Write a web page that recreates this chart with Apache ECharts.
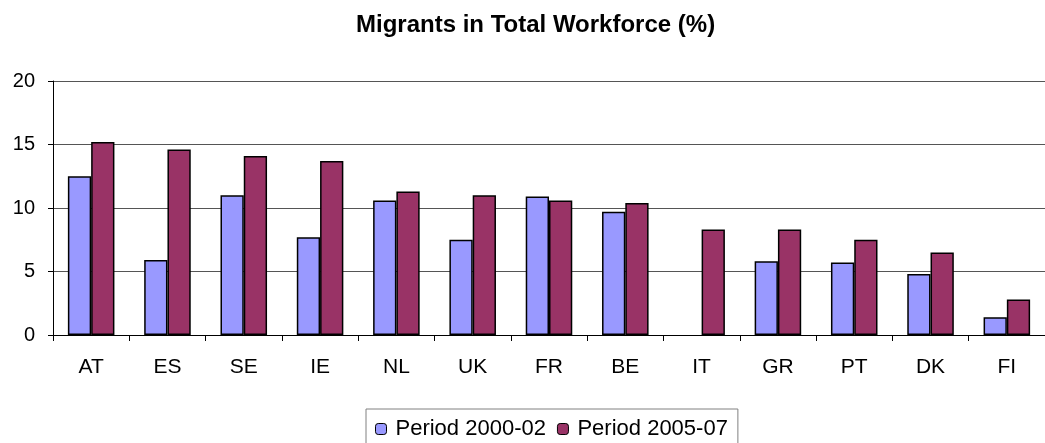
<!DOCTYPE html>
<html>
<head>
<meta charset="utf-8">
<script src="https://cdn.jsdelivr.net/npm/echarts@6/dist/echarts.min.js"></script>
<style>
  html, body { margin: 0; padding: 0; background: #fff; }
  #chart { width: 1045px; height: 443px; }
</style>
</head>
<body>
<div id="chart"></div>
<script>
const countries = ['AT', 'ES', 'SE', 'IE', 'NL', 'UK', 'FR', 'BE', 'IT', 'GR', 'PT', 'DK', 'FI'];
const period2000 = [12.5, 5.9, 11.0, 7.7, 10.6, 7.5, 10.9, 9.7, null, 5.8, 5.7, 4.8, 1.4];
const period2005 = [15.2, 14.6, 14.1, 13.7, 11.3, 11.0, 10.6, 10.4, 8.3, 8.3, 7.5, 6.5, 2.8];
const yTicks = [0, 5, 10, 15, 20];

const chart = echarts.init(document.getElementById('chart'));

const font = 'Liberation Sans, Arial, sans-serif';

const option = {
  animation: false,
  title: {
    text: 'Migrants in Total Workforce (%)',
    left: 356,
    top: 13,
    padding: 0,
    textStyle: { fontFamily: font, fontSize: 24, fontWeight: 'bold', color: '#000' }
  },
  legend: {
    left: 366,
    top: 409,
    itemWidth: 11,
    itemHeight: 11,
    itemGap: 11,
    padding: [9, 10, 6, 9],
    borderColor: '#808080',
    borderWidth: 1,
    textStyle: { fontFamily: font, fontSize: 22, color: '#000', padding: [0, 0, 0, 4] },
    data: [
      { name: 'Period 2000-02', itemStyle: { borderColor: '#000', borderWidth: 1 } },
      { name: 'Period 2005-07', itemStyle: { borderColor: '#000', borderWidth: 1 } }
    ]
  },
  grid: { left: 53, right: 0, top: 81, bottom: 108 },
  xAxis: {
    type: 'category',
    data: countries,
    axisLine: { lineStyle: { color: '#000', width: 1 } },
    axisTick: { show: true, length: 6, lineStyle: { color: '#000' } },
    axisLabel: { fontFamily: font, fontSize: 21, color: '#000', margin: 22 }
  },
  yAxis: {
    type: 'value',
    min: yTicks[0],
    max: yTicks[yTicks.length - 1],
    interval: 5,
    axisLine: { show: true, lineStyle: { color: '#000' } },
    axisTick: { show: true, length: 5, lineStyle: { color: '#000' } },
    axisLabel: { fontFamily: font, fontSize: 20, color: '#000', margin: 18 },
    splitLine: { lineStyle: { color: '#555', width: 1 } }
  },
  series: [
    {
      name: 'Period 2000-02',
      type: 'bar',
      data: period2000,
      barGap: '0%',
      barCategoryGap: '39%',
      itemStyle: { color: '#9999FF', borderColor: '#000', borderWidth: 1.5 }
    },
    {
      name: 'Period 2005-07',
      type: 'bar',
      data: period2005,
      itemStyle: { color: '#993366', borderColor: '#000', borderWidth: 1.5 }
    }
  ]
};

chart.setOption(option);
</script>
</body>
</html>
